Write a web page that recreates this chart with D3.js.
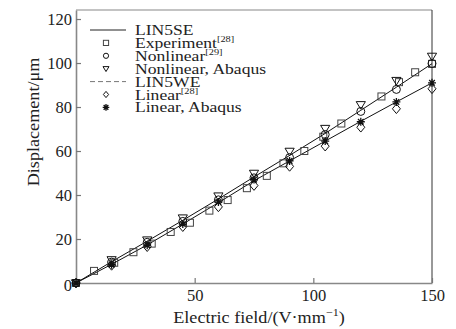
<!DOCTYPE html>
<html><head><meta charset="utf-8">
<script src="https://cdn.jsdelivr.net/npm/d3@7"></script>
<style>body{margin:0;background:#fff}svg{display:block}text{font-family:"Liberation Serif","Times New Roman",serif;fill:#222}</style>
</head><body><svg id="c" width="456" height="329"></svg>
<script>
const modelX = [0,15,30,45,60,75,90,105,120,135,150];
const lin5se = [0,9.7,19,28.5,38.2,48.2,58,68,78.5,89,99.7];
const lin5we = [0,8.5,17.3,26.8,36.5,46.5,55.5,64.5,73.5,82.3,91];
const nonlinAbaqus = [0,10.5,19.5,29.5,39.5,49.8,59.8,70.2,81,92,103];
const nonlin29 = [0,9.5,18.5,28,37.8,47.8,57,67.5,78,88,99.8];
const linAbaqus = [0,8.3,17.2,26.8,36.8,47,55.5,64.5,73.3,82.3,91];
const lin28 = [0,8,16.5,25.6,34.6,44.3,53,62.2,70.8,79.2,88.3];
const expX = [0,7.6,16.1,24.2,31.9,39.9,48,56.2,63.9,72,80.4,87.4,96.2,104.2,111.8,128.7,136.1,142.9,150];
const expY = [0,5.5,9.2,14,17.9,23.2,27.4,32.9,37.7,43.1,48.7,54.4,60,66.5,72.5,84.8,91.3,95.8,99.6];
const xTicks = [50,100,150];
const yTicks = [0,20,40,60,80,100,120];

const svg = d3.select("#c");
const L=76, R=432, T=10, B=283;
const x = d3.scaleLinear().domain([0,150]).range([L,R]);
const y = d3.scaleLinear().domain([0,124.1]).range([B,T]);

// frame
svg.append("line").attr("x1",L).attr("x2",R).attr("y1",T).attr("y2",T).attr("stroke","#888").attr("stroke-width",1.2);
svg.append("line").attr("x1",R).attr("x2",R).attr("y1",T).attr("y2",B).attr("stroke","#333").attr("stroke-width",1);

const xa = svg.append("g").attr("transform",`translate(0,${B})`)
  .call(d3.axisBottom(x).tickValues(xTicks).tickSize(-5).tickPadding(6).tickSizeOuter(0));
const ya = svg.append("g").attr("transform",`translate(${L},0)`)
  .call(d3.axisLeft(y).tickValues(yTicks).tickSize(-5).tickPadding(4).tickSizeOuter(0));
[xa,ya].forEach(a=>{
  a.select(".domain").attr("stroke","#888").attr("stroke-width",1.6);
  a.selectAll(".tick line").attr("stroke","#777").attr("stroke-width",1.2);
  a.selectAll("text").attr("font-size",16.5).attr("fill","#222").attr("font-family",'"Liberation Serif",serif');
});
ya.selectAll(".tick").filter(d=>d===0).select("line").remove();
ya.selectAll(".tick").filter(d=>d===0).select("text").attr("dy","0.45em");

// axis labels
const xl = svg.append("text").attr("transform","translate(259,323) scale(1.1,1)").attr("text-anchor","middle").attr("font-size",16.5);
xl.append("tspan").text("Electric field/(V\u00b7mm");
xl.append("tspan").attr("font-size",11).attr("dy",-7).text("\u22121");
xl.append("tspan").attr("dy",7).text(")");
svg.append("text").attr("transform","translate(38.5,122) rotate(-90) scale(1.1,1)").attr("text-anchor","middle").attr("font-size",16.5).text("Displacement/\u03bcm");

// lines
const line = d3.line().x((d,i)=>x(modelX[i])).y(d=>y(d));
svg.append("path").datum(lin5se).attr("d",line).attr("fill","none").attr("stroke","#111").attr("stroke-width",1);
svg.append("path").datum(lin5we).attr("d",line).attr("fill","none").attr("stroke","#111").attr("stroke-width",1);

// marker drawing
function marker(g, type, cx, cy, s){
  if(type==="square") g.append("rect").attr("x",cx-s).attr("y",cy-s).attr("width",2*s).attr("height",2*s).attr("fill","none").attr("stroke","#444").attr("stroke-width",1);
  else if(type==="circle") g.append("circle").attr("cx",cx).attr("cy",cy).attr("r",s).attr("fill","none").attr("stroke","#111").attr("stroke-width",1);
  else if(type==="tri") g.append("path").attr("d",`M${cx-s*1.15},${cy-s*0.8}L${cx+s*1.15},${cy-s*0.8}L${cx},${cy+s*1.1}Z`).attr("fill","none").attr("stroke","#111").attr("stroke-width",1);
  else if(type==="diamond") g.append("path").attr("d",`M${cx},${cy-s*1.2}L${cx+s},${cy}L${cx},${cy+s*1.2}L${cx-s},${cy}Z`).attr("fill","none").attr("stroke","#111").attr("stroke-width",1);
  else if(type==="star"){
    let d="";
    for(let k=0;k<4;k++){const a=k*Math.PI/4;d+=`M${cx-s*Math.cos(a)},${cy-s*Math.sin(a)}L${cx+s*Math.cos(a)},${cy+s*Math.sin(a)}`;}
    g.append("path").attr("d",d).attr("stroke","#111").attr("stroke-width",1.3);
  }
}
const mg = svg.append("g");
expX.forEach((v,i)=>marker(mg,"square",x(v),y(expY[i]),3.5));
const series = [[lin28,"diamond",4],[nonlin29,"circle",4],[linAbaqus,"star",4],[nonlinAbaqus,"tri",4]];
series.forEach(([vals,t,s])=>vals.forEach((v,i)=>marker(mg,t,x(modelX[i]),y(v),s)));

// legend
const lg = svg.append("g");
const items = [
  {type:"line", label:"LIN5SE"},
  {type:"square", label:"Experiment", sup:"[28]"},
  {type:"circle", label:"Nonlinear", sup:"[29]"},
  {type:"tri", label:"Nonlinear, Abaqus"},
  {type:"dash", label:"LIN5WE"},
  {type:"diamond", label:"Linear", sup:"[28]"},
  {type:"star", label:"Linear, Abaqus"}
];
items.forEach((it,i)=>{
  const cy = 30 + i*12.9;
  if(it.type==="line") lg.append("line").attr("x1",90).attr("x2",126).attr("y1",cy).attr("y2",cy).attr("stroke","#222").attr("stroke-width",1);
  else if(it.type==="dash") lg.append("line").attr("x1",90).attr("x2",126).attr("y1",cy).attr("y2",cy).attr("stroke","#777").attr("stroke-width",1).attr("stroke-dasharray","5,3");
  else marker(lg,it.type,106,cy,it.type==="star"?3.3:2.6);
  const t = lg.append("text").attr("transform",`translate(135,${cy+5}) scale(1.15,1)`).attr("font-size",15.3);
  t.append("tspan").text(it.label);
  if(it.sup){ t.append("tspan").attr("font-size",9).attr("dy",-5.5).text(it.sup); }
});
</script></body></html>
